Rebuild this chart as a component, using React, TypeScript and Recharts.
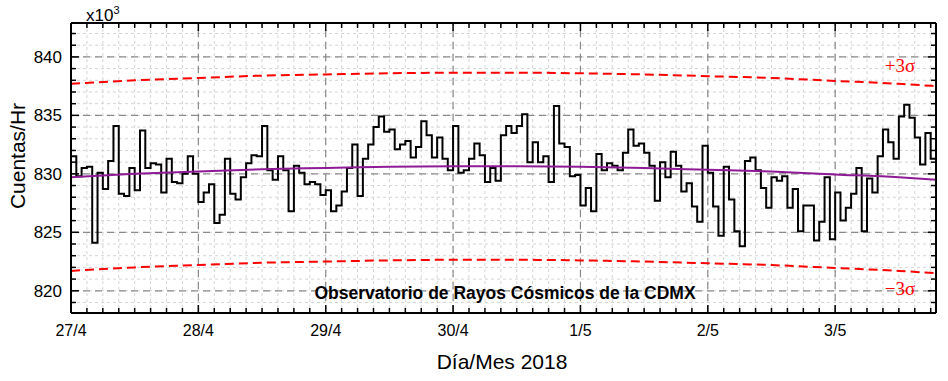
import React from "react"
import { LineChart, Line, XAxis, YAxis, CartesianGrid, ReferenceLine } from "recharts"

// hourly counts (x10^3), starting 27/4 00:00
const counts: number[] = [
  831.5, 829.8, 830.5, 830.6, 824.1, 830.1, 828.7, 831.1, 834.1, 828.3, 828.1, 830.5,
  828.6, 833.7, 830.5, 830.9, 830.8, 828.4, 831.3, 829.3, 829.2, 830.0, 831.5, 830.0,
  827.6, 828.4, 829.1, 825.8, 826.5, 831.3, 828.3, 827.8, 829.7, 830.9, 831.6, 831.5,
  834.1, 830.3, 829.5, 831.5, 830.3, 826.8, 830.7, 830.1, 829.1, 829.3, 829.1, 828.2,
  828.6, 826.8, 827.3, 828.5, 830.5, 832.5, 828.1, 831.3, 832.5, 834.0, 834.9, 833.6,
  833.8, 832.1, 832.5, 832.8, 831.4, 832.3, 834.5, 833.3, 831.4, 833.1, 831.3, 830.3,
  834.1, 830.1, 830.3, 831.3, 832.6, 831.6, 829.3, 830.5, 829.4, 833.3, 834.1, 833.5,
  834.1, 835.1, 831.0, 832.7, 831.0, 831.5, 829.3, 835.8, 832.6, 832.3, 829.8, 829.9,
  827.3, 828.8, 826.8, 831.7, 830.3, 830.9, 830.7, 830.3, 831.8, 833.8, 832.4, 832.6,
  831.8, 830.7, 827.7, 831.0, 829.7, 831.9, 830.7, 828.5, 829.2, 827.2, 825.9, 832.4,
  830.1, 827.2, 824.7, 830.6, 827.8, 825.1, 823.8, 831.1, 831.4, 830.3, 828.8, 827.1,
  829.7, 829.4, 829.8, 827.1, 828.7, 825.1, 827.3, 827.3, 824.3, 825.9, 829.7, 824.4,
  828.4, 826.0, 827.1, 828.3, 830.5, 825.1, 829.6, 828.4, 831.5, 833.8, 832.7, 831.3,
  834.9, 835.9, 834.8, 833.1, 830.8, 833.5, 831.3,
]

// purple fit and the +-3 sigma band, read every 12 hours
const fitHours: number[] = [0, 12, 24, 36, 48, 60, 72, 84, 96, 108, 120, 132, 144, 156, 163]
const fitValues: number[] = [829.7, 830.0, 830.2, 830.4, 830.5, 830.6, 830.65, 830.65, 830.6, 830.5, 830.35, 830.2, 829.95, 829.7, 829.5]
const upperValues: number[] = [837.7, 838.0, 838.2, 838.4, 838.5, 838.6, 838.65, 838.65, 838.6, 838.5, 838.35, 838.2, 837.95, 837.7, 837.5]
const lowerValues: number[] = [821.7, 822.0, 822.2, 822.4, 822.5, 822.6, 822.65, 822.65, 822.6, 822.5, 822.35, 822.2, 821.95, 821.7, 821.5]

const dayLabels: string[] = ["27/4", "28/4", "29/4", "30/4", "1/5", "2/5", "3/5"]
const majorY: number[] = [820, 825, 830, 835, 840]

const X_MAX = 163
const Y_MIN = 818.1
const Y_MAX = 842.9

const hourTicks: number[] = []
for (let h = 0; h <= 162; h += 3) hourTicks.push(h)
const unitTicks: number[] = []
for (let v = 819; v <= 842; v++) unitTicks.push(v)
const dayTicks = dayLabels.map((_, i) => i * 24)

const rows: any[] = counts.map((c, i) => ({ t: i, count: c }))
rows.push({ t: X_MAX, count: counts[counts.length - 1] })
fitHours.forEach((h, i) => {
  let row = rows.find((r) => r.t === h)
  if (!row) {
    row = { t: h }
    rows.push(row)
  }
  row.fit = fitValues[i]
  row.upper = upperValues[i]
  row.lower = lowerValues[i]
})
rows.sort((a, b) => a.t - b.t)

const font = "'Liberation Sans', Arial, sans-serif"
const serif = "'Liberation Serif', 'DejaVu Serif', serif"

const BottomTick = (props: any) => {
  const { x, y, payload } = props
  const major = payload.value % 24 === 0
  const idx = payload.value / 24
  return (
    <g>
      <line x1={x} y1={y} x2={x} y2={y - (major ? 8 : 5)} stroke="#000" strokeWidth={1.5} />
      {major && (
        <text x={x} y={y + 23} textAnchor="middle" fontSize={16} fontFamily={font} fill="#000">
          {dayLabels[idx]}
        </text>
      )}
    </g>
  )
}

const TopTick = (props: any) => {
  const { x, y, payload } = props
  const major = payload.value % 24 === 0
  return <line x1={x} y1={y} x2={x} y2={y + (major ? 8 : 5)} stroke="#000" strokeWidth={1.5} />
}

const LeftTick = (props: any) => {
  const { x, y, payload } = props
  const major = payload.value % 5 === 0
  return (
    <g>
      <line x1={x} y1={y} x2={x + (major ? 8 : 5)} y2={y} stroke="#000" strokeWidth={1.5} />
      {major && (
        <text x={x - 9} y={y + 6} textAnchor="end" fontSize={17} fontFamily={font} fill="#000">
          {payload.value}
        </text>
      )}
    </g>
  )
}

const RightTick = (props: any) => {
  const { x, y, payload } = props
  const major = payload.value % 5 === 0
  return <line x1={x} y1={y} x2={x - (major ? 8 : 5)} y2={y} stroke="#000" strokeWidth={1.5} />
}

export default function App() {
  return (
    <div style={{ position: "absolute", left: 0, top: 0, width: 948, height: 381, background: "#fff" }}>
      <LineChart width={948} height={381} data={rows} margin={{ top: 22, right: 11, bottom: 67, left: 70 }}>
        <CartesianGrid xAxisId="b" yAxisId="l" stroke="#d4d4d4" strokeDasharray="3 3" />
        {majorY.map((v) => (
          <ReferenceLine key={"y" + v} xAxisId="b" yAxisId="l" y={v} stroke="#8a8a8a" strokeDasharray="7 5" strokeWidth={1.2} />
        ))}
        {dayTicks.slice(1).map((d) => (
          <ReferenceLine key={"x" + d} xAxisId="b" yAxisId="l" x={d} stroke="#8a8a8a" strokeDasharray="7 5" strokeWidth={1.2} />
        ))}
        <XAxis
          xAxisId="b" dataKey="t" type="number" domain={[0, X_MAX]} ticks={hourTicks} interval={0}
          height={1} tickSize={0} tickMargin={0} tick={<BottomTick />}
          axisLine={{ stroke: "#000", strokeWidth: 2 }} tickLine={false}
        />
        <XAxis
          xAxisId="t" orientation="top" dataKey="t" type="number" domain={[0, X_MAX]} ticks={hourTicks} interval={0}
          height={1} tickSize={0} tickMargin={0} tick={<TopTick />}
          axisLine={{ stroke: "#000", strokeWidth: 2 }} tickLine={false}
        />
        <YAxis
          yAxisId="l" type="number" domain={[Y_MIN, Y_MAX]} ticks={unitTicks} interval={0} allowDataOverflow
          width={1} tickSize={0} tickMargin={0} tick={<LeftTick />}
          axisLine={{ stroke: "#000", strokeWidth: 2 }} tickLine={false}
        />
        <YAxis
          yAxisId="r" orientation="right" type="number" domain={[Y_MIN, Y_MAX]} ticks={unitTicks} interval={0} allowDataOverflow
          width={1} tickSize={0} tickMargin={0} tick={<RightTick />}
          axisLine={{ stroke: "#000", strokeWidth: 2 }} tickLine={false}
        />
        <Line xAxisId="b" yAxisId="l" dataKey="upper" type="monotone" stroke="#ff0000" strokeWidth={2} strokeDasharray="9 5" dot={false} connectNulls isAnimationActive={false} />
        <Line xAxisId="b" yAxisId="l" dataKey="lower" type="monotone" stroke="#ff0000" strokeWidth={2} strokeDasharray="9 5" dot={false} connectNulls isAnimationActive={false} />
        <Line xAxisId="b" yAxisId="l" dataKey="count" type="stepAfter" stroke="#000" strokeWidth={2} dot={false} connectNulls isAnimationActive={false} />
        <Line xAxisId="b" yAxisId="l" dataKey="fit" type="monotone" stroke="#8e1b96" strokeWidth={2} dot={false} connectNulls isAnimationActive={false} />
      </LineChart>
      <svg width={948} height={381} style={{ position: "absolute", left: 0, top: 0, pointerEvents: "none" }}>
        <text x={86} y={21} fontSize={17} fontFamily={font} fill="#000">
          x10<tspan fontSize={11} dy={-7}>3</tspan>
        </text>
        <text transform="translate(25,156) rotate(-90)" textAnchor="middle" fontSize={21} fontFamily={font} fill="#000">
          Cuentas/Hr
        </text>
        <text x={502} y={369} textAnchor="middle" fontSize={21} fontFamily={font} fill="#000">
          Día/Mes 2018
        </text>
        <text x={505} y={299} textAnchor="middle" fontSize={17.5} fontWeight="bold" fontFamily={font} fill="#000">
          Observatorio de Rayos Cósmicos de la CDMX
        </text>
        <text x={900} y={72} textAnchor="middle" fontSize={19} fontFamily={serif} fill="#ff0000">
          +3σ
        </text>
        <text x={900} y={295} textAnchor="middle" fontSize={19} fontFamily={serif} fill="#ff0000">
          −3σ
        </text>
      </svg>
    </div>
  )
}
